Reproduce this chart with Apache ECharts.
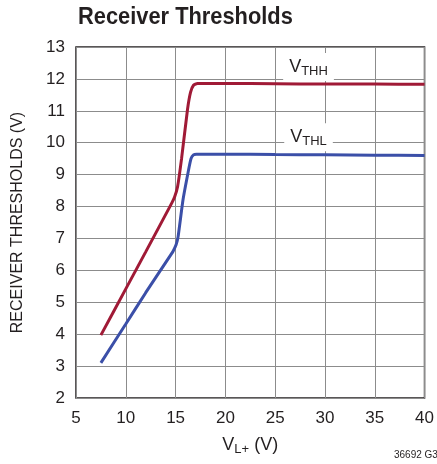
<!DOCTYPE html>
<html>
<head>
<meta charset="utf-8">
<script src="https://cdn.jsdelivr.net/npm/echarts@6/dist/echarts.min.js"></script>
<style>
  html, body { margin: 0; padding: 0; background: #fff; }
  #chart { width: 437px; height: 464px; }
</style>
</head>
<body>
<div id="chart"></div>
<script>
// V_L+ supply (V) vs receiver threshold (V)
const vthhX = [7.5, 10, 12, 14.6, 14.9, 15.2, 15.6, 16.2, 16.5, 16.8, 17.2, 20, 25, 30, 35, 40]
const vthhY = [3.97, 5.42, 6.58, 8.1, 8.3, 8.62, 9.5, 11.05, 11.58, 11.8, 11.86, 11.86, 11.85, 11.84, 11.84, 11.83]
const vthlX = [7.5, 10, 12, 14.5, 14.75, 15.05, 15.25, 15.75, 16.25, 16.55, 16.8, 17.1, 20, 25, 30, 35, 40]
const vthlY = [3.1, 4.32, 5.3, 6.48, 6.6, 6.8, 7.05, 8.22, 9.06, 9.5, 9.62, 9.64, 9.64, 9.63, 9.62, 9.61, 9.6]
const xTicks = [5, 40, 5]   // min, max, interval
const yTicks = [2, 13, 1]

const font = '"Liberation Sans Narrow", "Liberation Sans", Arial, sans-serif'
const textColor = '#231f20'

const pairs = (xs, ys) => xs.map((x, i) => [x, ys[i]])

const curveLabel = (coord, sub) => ({
  coord,
  symbol: 'rect',
  symbolSize: 0,
  label: {
    show: true,
    position: 'inside',
    backgroundColor: '#fff',
    padding: [3, 6, 3, 6],
    formatter: `{v|V}{s|${sub}}`,
    rich: {
      v: { fontFamily: font, fontSize: 18, color: textColor },
      s: { fontFamily: font, fontSize: 13, color: textColor, padding: [9, 0, 0, 0] },
    },
  },
})

const chart = echarts.init(document.getElementById('chart'))
chart.setOption({
  animation: false,
  backgroundColor: '#fff',
  grid: {
    left: 76, right: 9, top: 47, bottom: 66,
    show: true,
    borderColor: '#231f20',
    borderWidth: 1.5,
  },
  xAxis: {
    type: 'value',
    min: xTicks[0], max: xTicks[1], interval: xTicks[2],
    name: '{v|V}{s|L+}{v| (V)}',
    nameLocation: 'middle',
    nameGap: 36,
    nameTextStyle: {
      rich: {
        v: { fontFamily: font, fontSize: 18, color: textColor },
        s: { fontFamily: font, fontSize: 13, color: textColor, padding: [9, 0, 0, 0] },
      },
    },
    axisLine: { show: false },
    axisTick: { show: false },
    axisLabel: { fontFamily: font, fontSize: 17, color: textColor, margin: 12 },
    splitLine: { lineStyle: { color: '#8c8c8c', width: 1 } },
  },
  yAxis: {
    type: 'value',
    min: yTicks[0], max: yTicks[1], interval: yTicks[2],
    name: 'RECEIVER THRESHOLDS (V)',
    nameLocation: 'middle',
    nameGap: 50,
    nameTextStyle: { fontFamily: font, fontSize: 16, color: textColor },
    axisLine: { show: false },
    axisTick: { show: false },
    axisLabel: { fontFamily: font, fontSize: 17, color: textColor, margin: 11 },
    splitLine: { lineStyle: { color: '#8c8c8c', width: 1 } },
  },
  series: [
    {
      name: 'VTHH',
      type: 'line',
      data: pairs(vthhX, vthhY),
      symbol: 'none',
      smooth: 0.2,
      lineStyle: { color: '#a01a36', width: 3 },
      markPoint: { data: [curveLabel([28.35, 12.37], 'THH')] },
    },
    {
      name: 'VTHL',
      type: 'line',
      data: pairs(vthlX, vthlY),
      symbol: 'none',
      smooth: 0.2,
      lineStyle: { color: '#3b4fa8', width: 3 },
      markPoint: { data: [curveLabel([28.35, 10.17], 'THL')] },
    },
  ],
  graphic: [
    {
      type: 'text',
      x: 78,
      y: 5,
      scaleX: 0.91,
      style: { text: 'Receiver Thresholds', fontFamily: font, fontSize: 24, fontWeight: 'bold', fill: textColor },
    },
    {
      type: 'text',
      x: 394,
      y: 450,
      style: { text: '36692 G37', fontFamily: font, fontSize: 10, fill: textColor },
    },
  ],
})
</script>
</body>
</html>
